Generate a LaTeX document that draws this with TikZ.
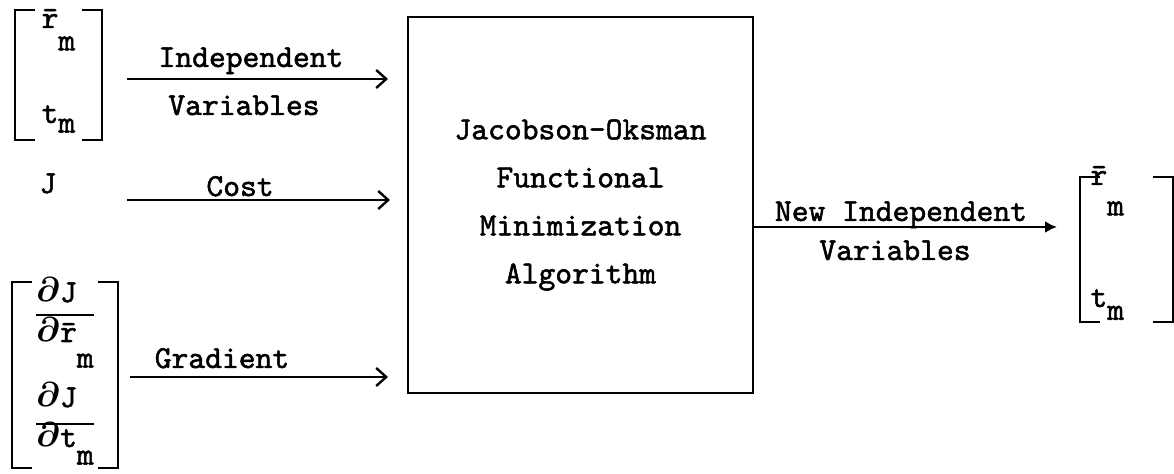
\documentclass[tikz,border=0pt]{standalone}
\usepackage{tikz}
\usepackage{fontspec}
\setmonofont{lmmono10-regular.otf}[FakeBold=1.6]
\usetikzlibrary{positioning,calc,arrows.meta}
\newcommand\lowm[1][0.8em]{\raisebox{-#1}{m}}
\newcommand\hstrut[1]{\rule{0pt}{#1}}
\newcommand\dstrut[1]{\rule[-#1]{0pt}{#1}}
\newcommand\den[2][13pt]{\setbox0=\hbox{#2}\rlap{\rule[#1]{\wd0}{1.2pt}}\box0}
\newcommand\pd{{\boldmath$\partial$}}

\begin{document}
\begin{tikzpicture}[x=0.5pt,y=-0.5pt,
  font=\ttfamily\fontsize{16}{19}\selectfont,
  every node/.style={outer sep=0pt},
  flow/.style={-{Straight Barb[length=5pt,width=9pt]},line width=1.2pt},
  vec/.style={inner ysep=0pt,align=left},
  bracket/.style={line width=1.1pt}]
\useasboundingbox (0,0) rectangle (1174,474);

\node[draw,line width=1.4pt,minimum width=172.5pt,minimum height=188pt,align=center,font=\ttfamily\fontsize{16}{24}\selectfont] (algo) at (580.5,205) {Jacobson-Oksman\\Functional\\Minimization\\Algorithm};

\node[vec,minimum width=43.5pt,font=\ttfamily\fontsize{16}{47.5}\selectfont] (vecA) at (58.5,75) {\hstrut{9pt}\smash{\=r\lowm[0.7em]}\\\dstrut{8.5pt}\smash{t\lowm[0.3em]}};
\node[anchor=base west] (cost) at (33,193) {J};
\node[vec,minimum width=53pt,font=\ttfamily\fontsize{16}{20}\selectfont] (grad) at (65,375) {\hstrut{10pt}\smash{\pd J}\\\smash{\den{\pd\=r\lowm}}\\[12.5pt]\smash{\pd J}\\\dstrut{10.5pt}\smash{\den[11pt]{\pd t\lowm[0.55em]}}};
\node[vec,minimum width=46.5pt,text width=36pt,font=\ttfamily\fontsize{16}{61}\selectfont] (vecB) at (1126.5,249.5) {\hstrut{4pt}\smash{\=r\lowm[0.95em]}\\\dstrut{7.5pt}\smash{t\lowm[0.4em]}};

% square brackets round the vectors
\foreach \v in {vecA,grad,vecB}{
  \draw[bracket] ([xshift=10pt]\v.north west) -- (\v.north west) -- (\v.south west) -- ([xshift=10pt]\v.south west);
  \draw[bracket] ([xshift=-10pt]\v.north east) -- (\v.north east) -- (\v.south east) -- ([xshift=-10pt]\v.south east);
}

\draw[flow,shorten <=12.5pt,shorten >=10pt] ([yshift=-2pt]vecA.east) -- ([yshift=-2pt]vecA.east -| algo.west)
  node[midway,anchor=base,yshift=6pt,xshift=-2pt] (lblIn) {Independent}
  node[midway,anchor=base,yshift=-18pt,xshift=-5.5pt] (lblVar) {Variables};
\draw[flow,shorten <=32pt,shorten >=9pt] ([yshift=-3.5pt]cost.base east) -- ([yshift=-3.5pt]cost.base east -| algo.west)
  node[midway,anchor=base,yshift=2pt,xshift=2.25pt] (lblCost) {Cost};
\draw[flow,shorten <=6pt,shorten >=10pt] ([yshift=-1pt]grad.east) -- ([yshift=-1pt]grad.east -| algo.west)
  node[midway,anchor=base,yshift=4.5pt,xshift=-20.5pt] (lblGrad) {Gradient};
\draw[-{Latex[length=6pt,width=6pt]},line width=1.2pt,shorten >=11.5pt] ([yshift=11.25pt]vecB.west -| algo.east) -- ([yshift=11.25pt]vecB.west)
  node[midway,anchor=base,yshift=3pt,xshift=-7.75pt] (lblNew) {New Independent}
  node[midway,anchor=base,yshift=-16.5pt,xshift=-10.75pt] (lblNewVar) {Variables};
\end{tikzpicture}
\end{document}
